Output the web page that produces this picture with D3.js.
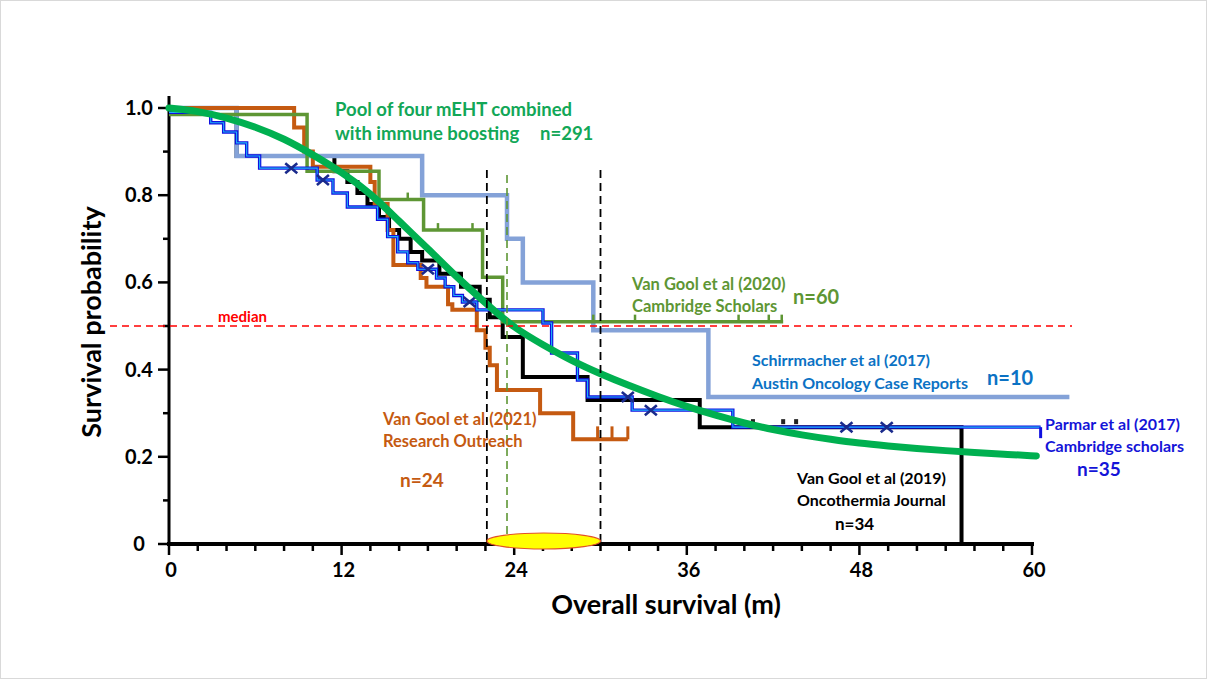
<!DOCTYPE html>
<html>
<head>
<meta charset="utf-8">
<script src="https://cdn.jsdelivr.net/npm/d3@7"></script>
<style>
    body { margin: 0; background: #fff; }
    svg { display: block; }
    text { font-family: Lato, "Open Sans", sans-serif; font-weight: bold; }
</style>
</head>
<body>
<svg width="1207" height="679"></svg>
<script>
/*=====================================================================================================
                                         Data
======================================================================================================*/
// pooled curve (smooth), [months, survival]
var poolCurve = [[0,1.0],[2,0.993],[4,0.978],[6,0.957],[8,0.93],[10,0.893],[12,0.853],[14,0.805],[16,0.74],
    [18,0.678],[20,0.612],[22,0.553],[24,0.495],[26,0.457],[28,0.42],[30,0.39],[32,0.363],[34,0.338],
    [36,0.315],[38,0.295],[40,0.277],[42,0.262],[44,0.25],[46,0.24],[48,0.231],[50,0.225],[52,0.219],
    [54,0.214],[56,0.21],[58,0.206],[60.3,0.202]];

// Kaplan-Meier steps, [time of step, survival after step]; last entry = end of follow-up
var vanGool2021 = [[0,1.0],[8.7,0.955],[9.4,0.9],[10.0,0.865],[14.0,0.83],[14.3,0.78],[15.2,0.72],[15.6,0.64],
    [17.5,0.61],[17.9,0.59],[19.4,0.55],[19.7,0.537],[21.4,0.49],[22.0,0.45],[22.3,0.41],[22.8,0.353],
    [25.8,0.30],[28.1,0.24],[31.9,0.24]];
var vanGool2021Censor = [29.8, 30.8, 31.9];

var vanGool2020 = [[0,0.985],[9.6,0.855],[14.6,0.79],[17.7,0.72],[21.8,0.612],[23.2,0.51],[42.7,0.51]];
var vanGool2020Censor = [16.6, 18.7, 21.1, 29.5, 32.4, 39.6, 41.7, 42.6];

var vanGool2019 = [[0,1.0],[4.7,0.89],[11.5,0.855],[12.4,0.83],[13.1,0.805],[13.8,0.78],[14.6,0.75],[15.3,0.72],
    [16.0,0.70],[16.8,0.67],[17.6,0.65],[18.8,0.62],[20.3,0.59],[21.6,0.56],[22.3,0.52],[23.2,0.475],
    [24.6,0.383],[29.1,0.33],[36.9,0.268],[55.1,0.0]];
var vanGool2019Censor = [40.6, 42.7, 43.6];

var schirrmacher = [[0,1.0],[4.7,0.89],[17.6,0.80],[23.5,0.70],[24.6,0.60],[29.5,0.49],[37.5,0.337],[62.6,0.337]];

var parmar = [[0,0.99],[2.9,0.966],[3.8,0.945],[4.7,0.92],[5.4,0.89],[6.3,0.862],[10.3,0.835],[11.4,0.805],
    [12.4,0.773],[14.5,0.745],[15.2,0.705],[15.9,0.67],[16.6,0.645],[17.3,0.63],[18.6,0.61],[19.2,0.59],
    [19.8,0.57],[20.4,0.555],[21.4,0.537],[26.0,0.507],[26.6,0.438],[28.4,0.376],[29.1,0.337],[32.2,0.307],
    [39.2,0.268],[60.6,0.268]];
var parmarCensor = [8.5, 10.7, 18.0, 20.9, 31.9, 33.5, 47.1, 49.9];

var medianSurvival = 0.5;
var ciLow = 22.1, ciHigh = 30.0, pooledMedian = 23.5;

var xTicks = [0, 12, 24, 36, 48, 60];
var yTicks = [0, 0.2, 0.4, 0.6, 0.8, 1.0];

/*=====================================================================================================
                                         Setup
======================================================================================================*/
var svg = d3.select("svg");

svg.append("rect")
    .attr("x", 0.5).attr("y", 0.5).attr("width", 1206).attr("height", 678)
    .attr("fill", "#fff").attr("stroke", "#d9d9d9");

var x = d3.scaleLinear().domain([0, 60]).range([169, 1032]);
var y = d3.scaleLinear().domain([0, 1]).range([544, 108]);

var stepLine = d3.line()
    .x(d => x(d[0]))
    .y(d => y(d[1]))
    .curve(d3.curveStepAfter);

var smoothLine = d3.line()
    .x(d => x(d[0]))
    .y(d => y(d[1]))
    .curve(d3.curveBasis);

function valueAt(series, t) {
    var v = series[0][1];
    for (var i = 0; i < series.length; i++) {
        if (series[i][0] <= t) v = series[i][1];
    }
    return v;
}

/*=====================================================================================================
                                         Axes
======================================================================================================*/
// y axis
var yAxis = svg.append("g");
yAxis.append("line")
    .attr("x1", x(0)).attr("x2", x(0))
    .attr("y1", 96).attr("y2", y(0) + 2)
    .attr("stroke", "#000").attr("stroke-width", 3);
yAxis.selectAll(".ytick")
    .data(d3.range(0, 11))
    .enter().append("line")
    .attr("x1", d => x(0) - (d % 2 === 0 ? 11 : 6))
    .attr("x2", x(0))
    .attr("y1", d => y(d / 10)).attr("y2", d => y(d / 10))
    .attr("stroke", "#000").attr("stroke-width", 2.5);
yAxis.selectAll(".ylabel")
    .data(yTicks)
    .enter().append("text")
    .attr("x", 139)
    .attr("y", d => y(d) + 7)
    .attr("text-anchor", "middle")
    .attr("font-size", 20)
    .text(d => d === 0 ? "0" : d.toFixed(1));

svg.append("text")
    .attr("transform", "translate(101,322) rotate(-90)")
    .attr("text-anchor", "middle")
    .attr("font-size", 27)
    .text("Survival probability");

// x axis
var xAxis = svg.append("g");
xAxis.selectAll(".xtick")
    .data(d3.range(0, 61, 2))
    .enter().append("line")
    .attr("x1", d => x(d)).attr("x2", d => x(d))
    .attr("y1", y(0))
    .attr("y2", d => y(0) + (d % 12 === 0 ? 11 : 7))
    .attr("stroke", "#000").attr("stroke-width", 2.5);
xAxis.selectAll(".xlabel")
    .data(xTicks)
    .enter().append("text")
    .attr("x", d => x(d) + 2)
    .attr("y", 577)
    .attr("text-anchor", "middle")
    .attr("font-size", 20)
    .text(d => d);

svg.append("text")
    .attr("x", 666).attr("y", 614)
    .attr("text-anchor", "middle")
    .attr("font-size", 27)
    .text("Overall survival (m)");

/*=====================================================================================================
                                         Curves
======================================================================================================*/
// Van Gool 2019 (black)
svg.append("path")
    .datum(vanGool2019)
    .attr("d", stepLine)
    .attr("fill", "none")
    .attr("stroke", "#000")
    .attr("stroke-width", 4);
svg.selectAll(".censorBlack")
    .data(vanGool2019Censor)
    .enter().append("rect")
    .attr("x", d => x(d) - 2)
    .attr("y", d => y(valueAt(vanGool2019, d)) - 8)
    .attr("width", 4).attr("height", 5)
    .attr("fill", "#222");

// Schirrmacher (light steel blue, soft)
svg.append("path")
    .datum(schirrmacher)
    .attr("d", stepLine)
    .attr("fill", "none")
    .attr("stroke", "#84a2d8")
    .attr("stroke-width", 4.5);

// Van Gool 2021 (orange)
svg.append("path")
    .datum(vanGool2021)
    .attr("d", stepLine)
    .attr("fill", "none")
    .attr("stroke", "#c55a11")
    .attr("stroke-width", 4);
svg.selectAll(".censorOrange")
    .data(vanGool2021Censor)
    .enter().append("line")
    .attr("x1", d => x(d)).attr("x2", d => x(d))
    .attr("y1", d => y(valueAt(vanGool2021, d)))
    .attr("y2", d => y(valueAt(vanGool2021, d)) - 13)
    .attr("stroke", "#c55a11").attr("stroke-width", 3);

// Van Gool 2020 (olive)
svg.append("path")
    .datum(vanGool2020)
    .attr("d", stepLine)
    .attr("fill", "none")
    .attr("stroke", "#5e9634")
    .attr("stroke-width", 3.5);
svg.selectAll(".censorOlive")
    .data(vanGool2020Censor)
    .enter().append("line")
    .attr("x1", d => x(d)).attr("x2", d => x(d))
    .attr("y1", d => y(valueAt(vanGool2020, d)))
    .attr("y2", d => y(valueAt(vanGool2020, d)) - 7)
    .attr("stroke", "#5e9634").attr("stroke-width", 2.5);

// Parmar (blue with light blue core)
svg.append("path")
    .datum(parmar)
    .attr("d", stepLine)
    .attr("fill", "none")
    .attr("stroke", "#1010e0")
    .attr("stroke-width", 3.4);
svg.append("path")
    .datum(parmar)
    .attr("d", stepLine)
    .attr("fill", "none")
    .attr("stroke", "#1fb4f5")
    .attr("stroke-width", 1.1);
var pEnd = parmar[parmar.length - 1];
svg.append("line")
    .attr("x1", x(pEnd[0])).attr("x2", x(pEnd[0]))
    .attr("y1", y(pEnd[1])).attr("y2", y(pEnd[1]) + 11)
    .attr("stroke", "#1010e0").attr("stroke-width", 3);
svg.selectAll(".censorParmar")
    .data(parmarCensor)
    .enter().append("path")
    .attr("transform", d => "translate(" + x(d) + "," + y(valueAt(parmar, d)) + ")")
    .attr("d", "M-6,-5L6,5M-6,5L6,-5")
    .attr("stroke", "#1a2a8c").attr("stroke-width", 2.6);

// pooled curve (thick green)
svg.append("path")
    .datum(poolCurve)
    .attr("d", smoothLine)
    .attr("fill", "none")
    .attr("stroke", "#00b050")
    .attr("stroke-width", 7)
    .attr("stroke-linecap", "round");

/*=====================================================================================================
                                         Reference lines
======================================================================================================*/
svg.append("line")
    .attr("x1", 110).attr("x2", 1072)
    .attr("y1", y(medianSurvival)).attr("y2", y(medianSurvival))
    .attr("stroke", "#ff0000").attr("stroke-width", 1.6)
    .attr("stroke-dasharray", "7,5");
svg.append("text")
    .attr("x", 218).attr("y", 322)
    .attr("fill", "#ff0000")
    .attr("font-size", 15)
    .attr("font-weight", 600)
    .text("median");

[ciLow, ciHigh].forEach(function(t) {
    svg.append("line")
        .attr("x1", x(t)).attr("x2", x(t))
        .attr("y1", 170).attr("y2", y(0))
        .attr("stroke", "#000").attr("stroke-width", 1.8)
        .attr("stroke-dasharray", "8,5");
});
svg.append("line")
    .attr("x1", x(pooledMedian)).attr("x2", x(pooledMedian))
    .attr("y1", 175).attr("y2", y(0) - 6)
    .attr("stroke", "#5e9634").attr("stroke-width", 1.6)
    .attr("stroke-dasharray", "8,5");

// x axis line on top of curves
svg.append("line")
    .attr("x1", x(0) - 2).attr("x2", x(60) + 2)
    .attr("y1", y(0)).attr("y2", y(0))
    .attr("stroke", "#000").attr("stroke-width", 4);

// confidence interval ellipse
svg.append("ellipse")
    .attr("cx", (x(ciLow) + x(ciHigh)) / 2)
    .attr("cy", y(0) - 3)
    .attr("rx", (x(ciHigh) - x(ciLow)) / 2)
    .attr("ry", 8)
    .attr("fill", "#ffff00")
    .attr("stroke", "#e2502a").attr("stroke-width", 1.2);

/*=====================================================================================================
                                         Labels
======================================================================================================*/
function label(lines, px, py, size, color, gap) {
    var t = svg.append("text")
        .attr("x", px).attr("y", py)
        .attr("font-size", size)
        .attr("fill", color);
    lines.forEach(function(s, i) {
        t.append("tspan").attr("x", px).attr("dy", i === 0 ? 0 : gap).text(s);
    });
}

label(["Pool of four mEHT combined", "with immune boosting"], 335, 116, 18.5, "#12a757", 24);
label(["n=291"], 540, 140, 18.5, "#12a757", 0);

label(["Van Gool et al (2020)", "Cambridge Scholars"], 632, 290, 16.5, "#5e9634", 22);
label(["n=60"], 793, 304, 20, "#5e9634", 0);

label(["Schirrmacher et al (2017)", "Austin Oncology Case Reports"], 752, 366, 16, "#0b72c4", 23);
label(["n=10"], 987, 385, 20, "#0b72c4", 0);

label(["Van Gool et al (2021)", "Research Outreach"], 383, 425, 16.5, "#c55a11", 22);
label(["n=24"], 400, 487, 19, "#c55a11", 0);

label(["Parmar et al (2017)", "Cambridge scholars"], 1045, 430, 16, "#1414d8", 22);
label(["n=35"], 1077, 476, 19, "#1414d8", 0);

label(["Van Gool et al (2019)", "Oncothermia Journal"], 797, 484, 16, "#000", 22);
label(["n=34"], 835, 530, 17, "#000", 0);
</script>
</body>
</html>
